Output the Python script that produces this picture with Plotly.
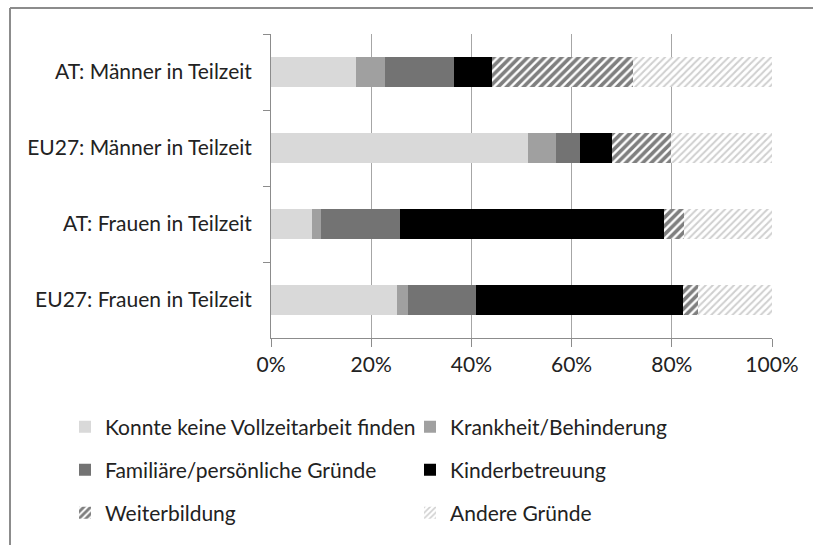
import plotly.graph_objects as go

categories = ["AT: Männer in Teilzeit", "EU27: Männer in Teilzeit",
              "AT: Frauen in Teilzeit", "EU27: Frauen in Teilzeit"]

series_names = ["Konnte keine Vollzeitarbeit finden", "Krankheit/Behinderung",
                "Familiäre/persönliche Gründe", "Kinderbetreuung",
                "Weiterbildung", "Andere Gründe"]

konnte = [16.9, 51.2, 8.2, 25.1]
krankheit = [5.8, 5.7, 1.7, 2.3]
familiaer = [13.9, 4.7, 15.8, 13.6]
kinder = [7.5, 6.5, 52.7, 41.3]
weiter = [28.1, 11.7, 4.1, 2.9]
andere = [27.8, 20.2, 17.5, 14.8]

tick_vals = [0, 20, 40, 60, 80, 100]
tick_text = ["0%", "20%", "40%", "60%", "80%", "100%"]

FONT = "Lato"
FS = 21

values = [konnte, krankheit, familiaer, kinder, weiter, andere]
styles = [
    dict(color="#d9d9d9"),
    dict(color="#a0a0a0"),
    dict(color="#737373"),
    dict(color="#000000"),
    dict(color="white", pattern=dict(shape="/", fgcolor="#000000", bgcolor="white",
                                     size=6, solidity=0.6)),
    dict(color="white", pattern=dict(shape="/", fgcolor="#a0a0a0", bgcolor="white",
                                     size=5, solidity=0.4)),
]
legends = ["legend", "legend", "legend2", "legend2", "legend3", "legend3"]

fig = go.Figure()
for name, vals, st, lg in zip(series_names, values, styles, legends):
    fig.add_trace(go.Bar(
        y=categories, x=vals, name=name, orientation="h",
        marker=dict(line=dict(width=0), **st), legend=lg,
    ))

L, R, T, B = 271, 813 - 772, 34, 545 - 338
W, H = 813, 545
pw = W - L - R
ph = H - T - B

def px2x(px):
    return (px - L) / pw

def py2y(py):
    return (H - B - py) / ph

leg_common = dict(orientation="h", xanchor="left", yanchor="middle",
                  entrywidth=300, entrywidthmode="pixels",
                  font=dict(family=FONT, size=FS, color="#222222"),
                  bgcolor="rgba(0,0,0,0)", traceorder="normal", itemclick=False)

fig.update_layout(
    width=W, height=H,
    margin=dict(l=L, r=R, t=T, b=B, pad=0),
    barmode="stack", bargap=0.6,
    plot_bgcolor="white", paper_bgcolor="white",
    font=dict(family=FONT, size=FS, color="#222222"),
    xaxis=dict(range=[0, 100], tickvals=tick_vals, ticktext=tick_text,
               showgrid=True, gridcolor="#a6a6a6", gridwidth=1,
               showline=True, linecolor="#8c8c8c", linewidth=1,
               ticks="outside", ticklen=8, tickcolor="#8c8c8c",
               zeroline=False, fixedrange=True),
    yaxis=dict(autorange="reversed", tickson="boundaries",
               showgrid=False, showline=True, linecolor="#8c8c8c", linewidth=1,
               ticks="outside", ticklen=7, tickcolor="#8c8c8c",
               ticklabelstandoff=14,
               zeroline=False, fixedrange=True),
    legend=dict(x=px2x(65), y=py2y(427), **leg_common),
    legend2=dict(x=px2x(65), y=py2y(470), **leg_common),
    legend3=dict(x=px2x(65), y=py2y(513), **leg_common),
    shapes=[
        dict(type="line", xref="paper", yref="paper", x0=px2x(10), x1=px2x(10),
             y0=py2y(8), y1=py2y(545), line=dict(color="#8c8c8c", width=2)),
        dict(type="line", xref="paper", yref="paper", x0=px2x(10), x1=px2x(813),
             y0=py2y(8), y1=py2y(8), line=dict(color="#8c8c8c", width=2)),
    ],
)

fig.write_html("out.html", config={"displayModeBar": False},
               post_script="document.body.style.margin='0';"
                           "document.documentElement.style.overflow='hidden';")
